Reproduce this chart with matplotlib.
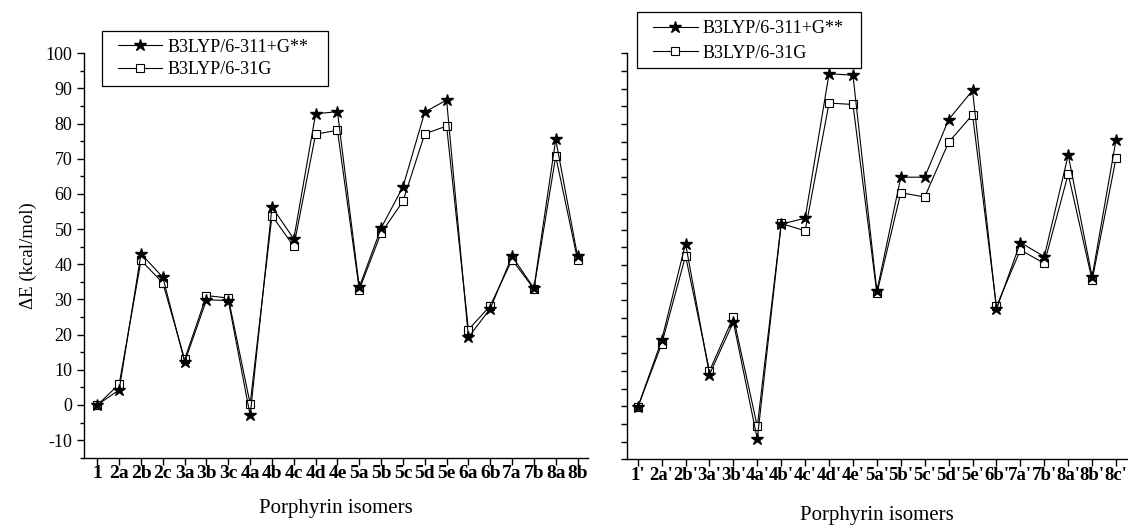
import matplotlib
matplotlib.use('Agg')
import matplotlib.pyplot as plt
from matplotlib.patches import Rectangle
from matplotlib.ticker import MultipleLocator

plt.rcParams['font.family'] = ['Liberation Serif', 'DejaVu Serif']
plt.rcParams['axes.unicode_minus'] = False

# left panel
labels_a = ['1', '2a', '2b', '2c', '3a', '3b', '3c', '4a', '4b', '4c', '4d', '4e',
            '5a', '5b', '5c', '5d', '5e', '6a', '6b', '7a', '7b', '8a', '8b']
big_a = [0.0, 4.3, 43.0, 36.3, 12.2, 29.9, 29.7, -3.0, 56.3, 47.2, 82.8, 83.4,
         33.5, 50.3, 62.0, 83.3, 86.7, 19.2, 27.4, 42.3, 33.2, 75.5, 42.3]
small_a = [0.0, 5.9, 41.1, 34.7, 13.0, 31.1, 30.4, 0.3, 53.8, 45.1, 77.0, 78.1,
           32.8, 48.9, 57.9, 77.1, 79.3, 21.4, 28.2, 41.3, 33.0, 70.7, 41.3]

# right panel
labels_b = ["1'", "2a'", "2b'", "3a'", "3b'", "4a'", "4b'", "4c'", "4d'", "4e'",
            "5a'", "5b'", "5c'", "5d'", "5e'", "6b'", "7a'", "7b'", "8a'", "8b'", "8c'"]
big_b = [-0.3, 18.7, 46.1, 9.0, 23.9, -9.3, 51.6, 53.3, 94.2, 93.8,
         32.6, 64.9, 64.9, 81.2, 89.5, 27.5, 46.4, 42.4, 71.2, 36.7, 75.5]
small_b = [-0.3, 17.6, 42.6, 10.0, 25.3, -5.7, 51.8, 49.7, 85.9, 85.5,
           32.0, 60.5, 59.3, 74.8, 82.6, 28.3, 44.3, 40.5, 65.8, 35.7, 70.3]

name_big = 'B3LYP/6-311+G**'
name_small = 'B3LYP/6-31G'

W, H = 1128, 527
fig = plt.figure(figsize=(W / 100, H / 100), dpi=100)
ax1 = fig.add_axes([0.0747, 0.1315, 0.4468, 0.7674])
ax2 = fig.add_axes([0.5556, 0.1285, 0.4444, 0.7704])


def draw(ax, labels, big, small, xlim, fs, box, spacing, labelpad):
    x = list(range(len(labels)))
    ax.plot(x, small, color='black', lw=0.8, marker='s', ms=5.5,
            mfc='white', mec='black', mew=0.8, label=name_small, zorder=3)
    ax.plot(x, big, color='black', lw=0.8, marker='*', ms=9,
            mfc='black', mec='black', label=name_big, zorder=4)
    ax.set_xlim(*xlim)
    ax.set_ylim(-15, 100)
    ax.set_xticks(x)
    ax.set_xticklabels(labels, fontsize=fs, fontweight='bold')
    ax.spines['top'].set_visible(False)
    ax.spines['right'].set_visible(False)
    for s in ['left', 'bottom']:
        ax.spines[s].set_linewidth(1.0)
    ax.tick_params(axis='x', direction='out', length=5, width=1.0, pad=0.5)
    ax.set_xlabel('Porphyrin isomers', fontsize=15, labelpad=labelpad)

    # legend: box given in pixels (left, top, right, bottom)
    x0, y0, x1, y1 = box
    h, l = ax.get_legend_handles_labels()
    fig.legend(h[::-1], l[::-1], loc='upper left',
               bbox_to_anchor=((x0 + 16) / W, 1 - (y0 + 8) / H),
               fontsize=13, frameon=False, borderpad=0, handlelength=2.45,
               handletextpad=0.3, labelspacing=spacing, borderaxespad=0)
    fig.patches.append(Rectangle((x0 / W, 1 - y1 / H), (x1 - x0) / W, (y1 - y0) / H,
                                 transform=fig.transFigure, fill=False,
                                 edgecolor='black', lw=0.9))


draw(ax1, labels_a, big_a, small_a, (-0.6, 22.49), 14, (102, 30.7, 328, 85.7), 0.3, 12)
draw(ax2, labels_b, big_b, small_b, (-0.46, 20.5), 13.5, (637.3, 12.3, 860.7, 68.3), 0.4, 16)

ax1.yaxis.set_major_locator(MultipleLocator(10))
ax1.yaxis.set_minor_locator(MultipleLocator(5))
ax1.tick_params(axis='y', which='major', direction='out', length=5, width=1.0, labelsize=13)
ax1.tick_params(axis='y', which='minor', direction='out', length=3, width=1.0)
ax1.set_ylabel('ΔE (kcal/mol)', fontsize=13.5, labelpad=6)

ax2.yaxis.set_major_locator(MultipleLocator(5))
ax2.tick_params(axis='y', direction='out', length=4.5, width=1.0, labelleft=False)

fig.savefig('out.png', dpi=100)
